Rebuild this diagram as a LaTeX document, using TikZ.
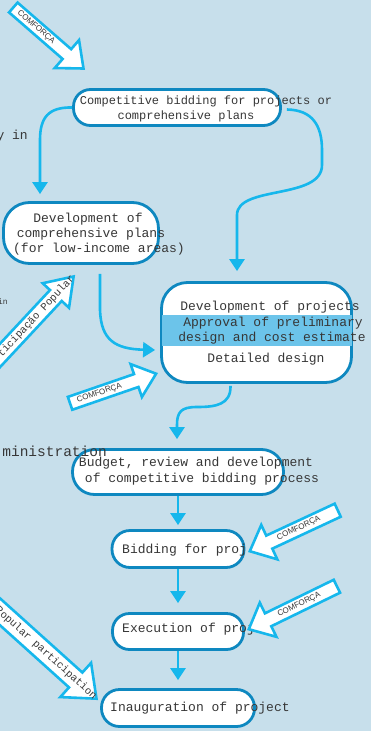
\documentclass[tikz,border=0pt]{standalone}
\usepackage{fontspec}
\setmainfont{Liberation Serif}
\newfontfamily\monofam{Liberation Mono}
\newfontfamily\sansfam{Liberation Sans}
\usetikzlibrary{arrows.meta,calc}
\definecolor{bg}{RGB}{199,223,235}
\definecolor{frame}{RGB}{14,136,192}
\definecolor{conn}{RGB}{22,183,236}
\definecolor{band}{RGB}{108,196,234}
\definecolor{txt}{RGB}{55,55,55}
\begin{document}
\begin{tikzpicture}[x=1pt,y=-1pt,
  box/.style={draw=frame, line width=2.8pt, fill=white, inner sep=0pt},
  lbl/.style={font=\monofam\fontsize{13}{15}\selectfont, text=txt, inner sep=0pt, anchor=base},
  link/.style={draw=conn, line width=2.6pt, -{Triangle[length=12pt,width=15pt]}},
  blk/.style={draw=conn, line width=2.6pt, fill=white, line join=miter},
  blktxt/.style={font=\sansfam\fontsize{8}{9}\selectfont, text=txt, inner sep=0pt},
  blkmono/.style={font=\monofam\fontsize{10.5}{12}\selectfont, text=txt, inner sep=0pt}]
\useasboundingbox (0,0) rectangle (371,731);
\clip (0,0) rectangle (371,731);
\fill[bg] (0,0) rectangle (371,731);

% partial texts at the left edge
\node[lbl, anchor=base east] (p1) at (28,139.3) {y in};
\node[lbl, anchor=base east, font=\monofam\fontsize{8}{9}\selectfont] (p2) at (8,304) {in};

% boxes
\node[box, rounded corners=17pt, minimum width=207pt, minimum height=36pt] (b1) at (177,107.5) {};
\node[box, rounded corners=26pt, minimum width=155pt, minimum height=61pt] (b2) at (81,233) {};
\node[box, rounded corners=26pt, minimum width=190pt, minimum height=100pt] (b3) at (256.5,332.5) {};
\fill[band] ($(b3.west)+(1.4,-17.5)$) rectangle ($(b3.east)+(-1.4,13.5)$);
\node[box, rounded corners=22pt, minimum width=211pt, minimum height=45pt] (b4) at (178,472) {};
\node[box, rounded corners=18pt, minimum width=132pt, minimum height=37pt] (b5) at (178,549) {};
\node[box, rounded corners=17pt, minimum width=131pt, minimum height=36pt] (b6) at (178,631.5) {};
\node[box, rounded corners=18pt, minimum width=153pt, minimum height=37pt] (b7) at (178,708) {};

\node[lbl, anchor=base east, font=\monofam\fontsize{14.5}{16}\selectfont] (p3) at (107,456.7) {ministration};

% labels
\node[lbl, font=\monofam\fontsize{12}{14}\selectfont] (t1a) at (206,104.3) {Competitive bidding for projects or};
\node[lbl, font=\monofam\fontsize{12}{14}\selectfont] (t1b) at (186,119) {comprehensive plans};
\node[lbl] (t2a) at (88,222) {Development of};
\node[lbl] (t2b) at (91,237) {comprehensive plans};
\node[lbl] (t2c) at (99,252) {(for low-income areas)};
\node[lbl] (t3a) at (270,310.7) {Development of projects};
\node[lbl] (t3b) at (273,326) {Approval of preliminary};
\node[lbl] (t3c) at (272,341.7) {design and cost estimate};
\node[lbl] (t3d) at (266,362.3) {Detailed design};
\node[lbl] (t4a) at (196,466.7) {Budget, review and development};
\node[lbl] (t4b) at (202,482.7) {of competitive bidding process};
\node[lbl, anchor=base west] (t5) at (122,553.3) {Bidding for proj};
\node[lbl, anchor=base west] (t6) at (122,632.7) {Execution of proj};
\node[lbl, anchor=base west] (t7) at (110,711.7) {Inauguration of project};

% connectors
\draw[link] (b1.west) .. controls (48,107) and (40,118) .. (40,140) -- ($(b2.north)+(-41,-7)$);
\draw[link] ($(b1.east)+(5,2)$) .. controls (312,110) and (322,125) .. (322,150) -- (322,165)
   .. controls (322,200) and (237,185) .. (237,215) -- ($(b3.north)+(-19.5,-10)$);
\draw[link] ($(b2.south)+(19,9)$) -- (100,310) .. controls (101,340) and (115,349) .. ($(b3.west)+(-5,17.5)$);
\draw[link] ($(b3.south)+(-26,2)$) .. controls (231,405) and (215,407) .. (197,407)
   .. controls (181,407) and (177,412) .. (177,425) -- ($(b4.north)+(-1,-9)$);
\draw[link] (b4.south) -- ($(b5.north)+(0,-4)$);
\draw[link] (b5.south) -- ($(b6.north)+(0,-9)$);
\draw[link] (b6.south) -- ($(b7.north)+(0,-8)$);

% block arrows
\begin{scope}[shift={(83.5,68.5)}, rotate=-41]
  \draw[blk] (0,0) -- (-22,18.5) -- (-22,6.5) -- (-93,6.5) -- (-93,-6.5) -- (-22,-6.5) -- (-22,-18.5) -- cycle;
  \node[blktxt, rotate=-41] (ba) at (-63,0) {COMFORÇA};
\end{scope}
\begin{scope}[shift={(73.6,276.5)}, rotate=47]
  \draw[blk] (0,0) -- (-26,18) -- (-26,8) -- (-140,8) -- (-140,-8) -- (-26,-8) -- (-26,-18) -- cycle;
  \node[blkmono, rotate=47] (bb) at (-64,0) {Participação Popular};
\end{scope}
\begin{scope}[shift={(156.1,373.7)}, rotate=19]
  \draw[blk] (0,0) -- (-21,17.4) -- (-21,6.8) -- (-91,6.8) -- (-91,-6.8) -- (-21,-6.8) -- (-21,-17.4) -- cycle;
  \node[blktxt, rotate=19] (bc) at (-60,0) {COMFORÇA};
\end{scope}
\begin{scope}[shift={(249.8,551.2)}, rotate=205]
  \draw[blk] (0,0) -- (-21.5,19) -- (-21.5,7.2) -- (-97,7.2) -- (-97,-7.2) -- (-21.5,-7.2) -- (-21.5,-19) -- cycle;
  \node[blktxt, rotate=25] (bd) at (-54,0) {COMFORÇA};
\end{scope}
\begin{scope}[shift={(248.8,629.2)}, rotate=206]
  \draw[blk] (0,0) -- (-21.5,19) -- (-21.5,7.2) -- (-98,7.2) -- (-98,-7.2) -- (-21.5,-7.2) -- (-21.5,-19) -- cycle;
  \node[blktxt, rotate=26] (be) at (-56,0) {COMFORÇA};
\end{scope}
\begin{scope}[shift={(96.5,698.7)}, rotate=-42]
  \draw[blk] (0,0) -- (-28,23) -- (-28,10) -- (-150,10) -- (-150,-10) -- (-28,-10) -- (-28,-23) -- cycle;
  \node[blkmono, rotate=-42] (bf) at (-68,0) {Popular participation};
\end{scope}
\end{tikzpicture}
\end{document}
